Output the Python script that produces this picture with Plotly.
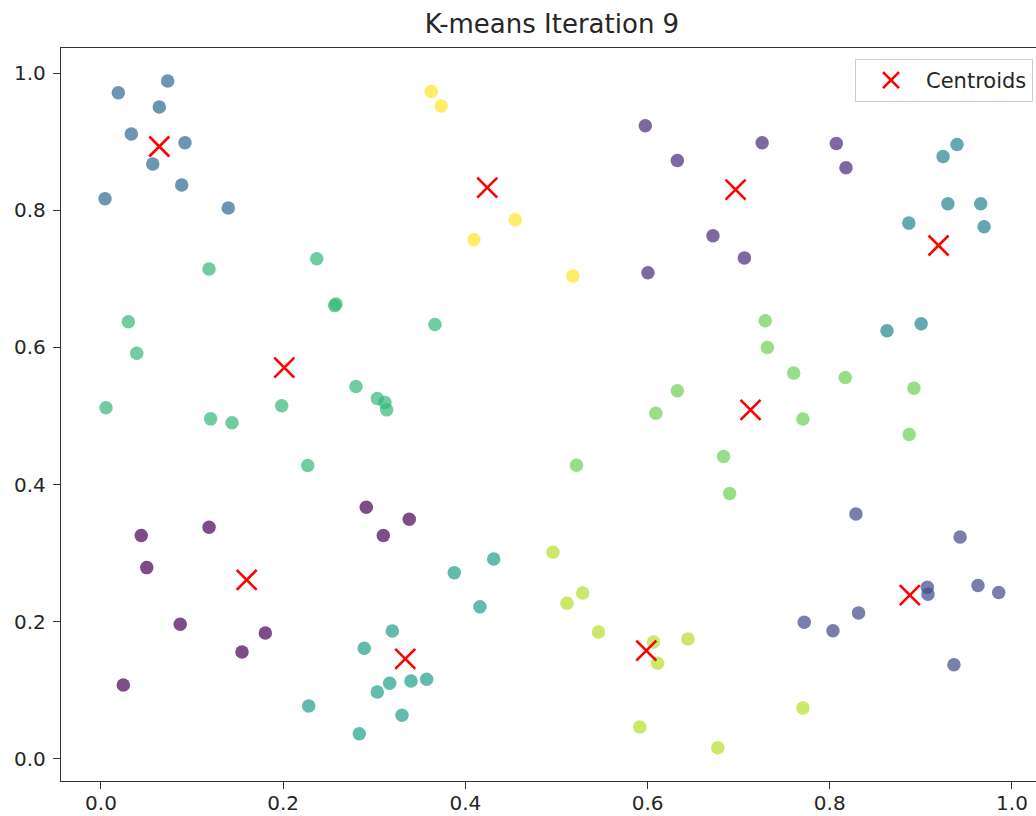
import plotly.graph_objects as go

# ---- data ----
x_pts = [
    # cluster 0 (dark purple)
    0.0442, 0.0502, 0.1186, 0.0870, 0.1804, 0.1548, 0.0245, 0.2912, 0.3384, 0.3099,
    # cluster 1 (purple)
    0.5975, 0.7258, 0.8072, 0.6327, 0.8178, 0.6718, 0.7063, 0.6004,
    # cluster 2 (navy)
    0.8287, 0.9431, 0.9071, 0.9078, 0.9627, 0.9855, 0.8316, 0.7720, 0.8035, 0.9363,
    # cluster 3 (steel blue)
    0.0190, 0.0732, 0.0640, 0.0333, 0.0922, 0.0568, 0.0886, 0.0044, 0.1397,
    # cluster 4 (teal)
    0.9397, 0.9244, 0.9297, 0.9657, 0.9694, 0.8868, 0.9003, 0.8628,
    # cluster 5 (blue-green)
    0.3878, 0.4311, 0.4160, 0.3198, 0.2890, 0.3169, 0.3033, 0.3403, 0.3575, 0.2280, 0.3304, 0.2835,
    # cluster 6 (green)
    0.1186, 0.2368, 0.2565, 0.2580, 0.0300, 0.0392, 0.3666, 0.2799, 0.3033, 0.3117,
    0.3136, 0.1984, 0.0055, 0.1204, 0.1438, 0.2269,
    # cluster 7 (light green)
    0.7292, 0.7315, 0.7604, 0.8170, 0.8924, 0.6327, 0.6091, 0.7705, 0.8872, 0.5220, 0.6834, 0.6901,
    # cluster 8 (yellow-green)
    0.4962, 0.5288, 0.5115, 0.5461, 0.6443, 0.6065, 0.6110, 0.7705, 0.5914, 0.6771,
    # cluster 9 (yellow)
    0.3626, 0.3735, 0.4094, 0.4548, 0.5180,
]
y_pts = [
    0.3257, 0.2790, 0.3380, 0.1965, 0.1838, 0.1561, 0.1079, 0.3671, 0.3496, 0.3257,
    0.9233, 0.8985, 0.8975, 0.8727, 0.8620, 0.7628, 0.7303, 0.7089,
    0.3573, 0.3238, 0.2504, 0.2402, 0.2528, 0.2426, 0.2130, 0.1994, 0.1871, 0.1375,
    0.9714, 0.9885, 0.9505, 0.9112, 0.8985, 0.8674, 0.8368, 0.8168, 0.8032,
    0.8960, 0.8785, 0.8095, 0.8095, 0.7760, 0.7813, 0.6345, 0.6243,
    0.2717, 0.2917, 0.2221, 0.1867, 0.1615, 0.1104, 0.0977, 0.1138, 0.1162, 0.0773, 0.0637, 0.0369,
    0.7143, 0.7293, 0.6610, 0.6635, 0.6374, 0.5917, 0.6335, 0.5430, 0.5255, 0.5197,
    0.5090, 0.5149, 0.5120, 0.4959, 0.4901, 0.4278,
    0.6389, 0.5999, 0.5626, 0.5562, 0.5407, 0.5368, 0.5042, 0.4956, 0.4730, 0.4284, 0.4409, 0.3870,
    0.3015, 0.2421, 0.2271, 0.1852, 0.1750, 0.1707, 0.1396, 0.0744, 0.0467, 0.0165,
    0.9733, 0.9520, 0.7570, 0.7862, 0.7040,
]
labels = (
    [0] * 10 + [1] * 8 + [2] * 10 + [3] * 9 + [4] * 8
    + [5] * 12 + [6] * 16 + [7] * 12 + [8] * 10 + [9] * 5
)

centroid_x = [0.1599, 0.6966, 0.8879, 0.0640, 0.9194, 0.3340, 0.2012, 0.7130, 0.5986, 0.4240]
centroid_y = [0.2611, 0.8300, 0.2388, 0.8930, 0.7487, 0.1459, 0.5707, 0.5090, 0.1580, 0.8330]

x_ticks = [0.0, 0.2, 0.4, 0.6, 0.8, 1.0]
y_ticks = [0.0, 0.2, 0.4, 0.6, 0.8, 1.0]

title_text = "K-means Iteration 9"
legend_name = "Centroids"

# ---- figure ----
FONT = "DejaVu Sans"
TXT = "#262626"

fig = go.Figure()
fig.add_trace(go.Scatter(
    x=x_pts, y=y_pts, mode="markers", showlegend=False,
    marker=dict(color=labels, colorscale="Viridis", cmin=0, cmax=9,
                size=13.5, opacity=0.7, line=dict(width=0)),
    hoverinfo="skip",
))
fig.add_trace(go.Scatter(
    x=centroid_x, y=centroid_y, mode="markers", name=legend_name,
    marker=dict(symbol="x-thin", size=20, color="red",
                line=dict(color="red", width=2.6)),
))

axis_common = dict(
    showgrid=False, zeroline=False, showline=True, linecolor="#333333", linewidth=1.4,
    ticks="outside", ticklen=7, tickwidth=1.3, tickcolor="#333333", automargin=False,
    tickfont=dict(family=FONT, size=20, color=TXT), tickformat=".1f",
)

fig.update_layout(
    width=1036, height=816,
    margin=dict(l=61, r=0, t=48, b=35, autoexpand=False),
    paper_bgcolor="white", plot_bgcolor="white",
    font=dict(family=FONT, color=TXT),
    title=dict(text=title_text, x=(552 - 61) / 975, xref="paper", xanchor="center",
               y=1 - 24 / 816, yref="container", yanchor="middle",
               font=dict(family=FONT, size=26, color=TXT)),
    xaxis=dict(range=[-0.0439, 1.0264], tickvals=x_ticks, mirror=True,
               ticklabelstandoff=-3, **axis_common),
    yaxis=dict(range=[-0.0321, 1.0366], tickvals=y_ticks, mirror=False,
               ticklabelstandoff=3, **axis_common),
    legend=dict(x=(1033 - 61) / 975, xanchor="right", y=0.985, yanchor="top",
                itemwidth=60,
                bgcolor="rgba(255,255,255,0.8)", bordercolor="#cccccc", borderwidth=1,
                font=dict(family=FONT, size=21, color=TXT)),
)

fig.write_html("out.html", config={"displayModeBar": False},
               post_script="document.body.style.margin='0';document.body.style.padding='0';")
